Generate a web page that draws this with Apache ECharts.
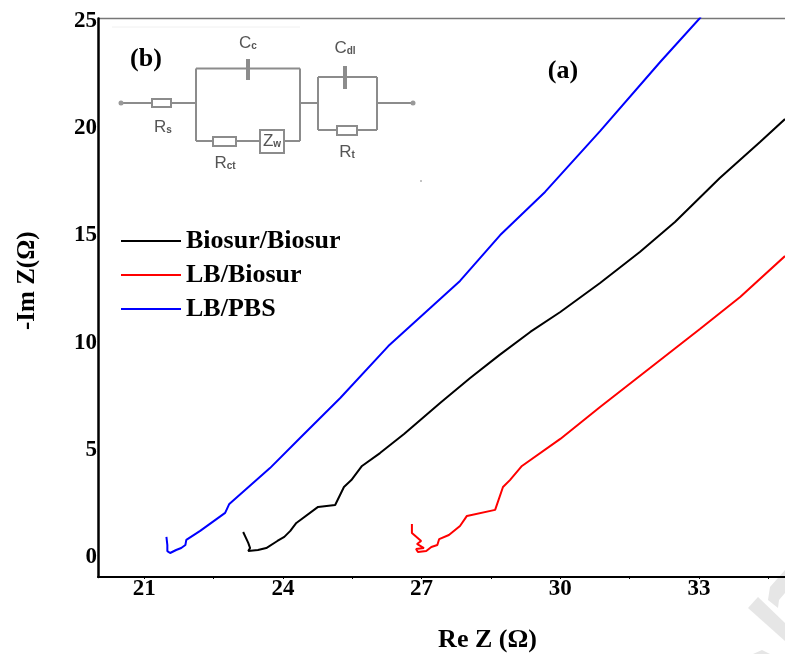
<!DOCTYPE html>
<html><head><meta charset="utf-8">
<style>html,body{margin:0;padding:0;background:#fff}#c{width:785px;height:654px}</style>
<script src="https://cdn.jsdelivr.net/npm/echarts@6/dist/echarts.min.js"></script>
</head><body><div id="c"></div>
<script>
const seriesNames = ['Biosur/Biosur','LB/Biosur','LB/PBS'];
const biosurBiosur = [[23.14,1.05],[23.25,.54],[23.29,.30],[23.25,.16],[23.46,.21],[23.64,.30],[23.88,.63],[24.03,.82],[24.16,1.10],[24.29,1.47],[24.76,2.22],[25.13,2.31],[25.32,3.15],[25.48,3.47],[25.71,4.13],[26.10,4.73],[26.62,5.62],[27.40,7.07],[28.05,8.23],[28.68,9.30],[29.35,10.38],[30.0,11.31],[30.86,12.66],[31.72,14.11],[32.48,15.51],[33.45,17.56],[34.32,19.24],[34.86,20.31]];
const lbBiosur = [[26.79,1.42],[26.79,1.00],[26.99,.63],[26.90,.49],[27.05,.30],[26.88,.26],[26.92,.12],[27.10,.16],[27.21,.35],[27.34,.44],[27.38,.72],[27.59,.91],[27.83,1.33],[27.98,1.80],[28.59,2.08],[28.76,3.15],[28.91,3.47],[29.17,4.13],[30.0,5.39],[30.86,6.88],[31.94,8.70],[33.02,10.52],[33.89,12.01],[34.86,13.92]];
const lbPbs = [[21.48,.82],[21.50,.44],[21.50,.16],[21.56,.07],[21.69,.21],[21.80,.30],[21.89,.44],[21.91,.68],[22.21,1.10],[22.75,1.94],[22.84,2.36],[23.72,4.03],[24.37,5.43],[25.24,7.30],[26.28,9.72],[27.83,12.76],[28.70,14.90],[29.67,16.91],[30.86,19.75],[32.16,22.97],[33.04,25.07]];
const xLabelValues = [21,24,27,30,33];
const xTickValues = [21,22.5,24,25.5,27,28.5,30,31.5,33,34.5];
const yLabelValues = [0,5,10,15,20,25];

const SERIF = '"Liberation Serif","Times New Roman",serif';
const G = '#8c8c8c';
const line = (x1,y1,x2,y2,w,c) => ({type:'line',silent:true,shape:{x1,y1,x2,y2},style:{stroke:c||G,lineWidth:w||2}});
const rect = (x,y,width,height) => ({type:'rect',silent:true,shape:{x,y,width,height},style:{fill:'#fff',stroke:G,lineWidth:2}});
const sub = (x,y,a,b) => ({type:'text',silent:true,x,y,style:{text:`{a|${a}}{b|${b}}`,align:'center',verticalAlign:'middle',rich:{a:{fontFamily:'"Liberation Sans",sans-serif',fontSize:17,fill:'#555'},b:{fontFamily:'"Liberation Sans",sans-serif',fontSize:10,fontWeight:'bold',fill:'#555',verticalAlign:'bottom',padding:[6,0,0,0]}}}});
const bold = (x,y,text) => ({type:'text',silent:true,x,y,style:{text,fontFamily:SERIF,fontWeight:'bold',fontSize:26,fill:'#000',align:'center',verticalAlign:'middle'}});
const wm = pts => ({type:'polygon',silent:true,z:-1,shape:{points:pts},style:{fill:'#e6e6e6'}});

const graphics = [
  wm([[748,608],[758,597],[785,623],[785,641]]),
  wm([[768,600],[770,587],[785,570],[785,593],[779,600],[778,608]]),
  wm([[753,654],[762,650],[770,654]]),
  line(112,27,300,27,1,'#f0f0f0'),
  line(420,181,422,181,1,'#888'),
  line(121,103,196,103), line(196,68.5,196,141), line(196,68.5,300,68.5), line(300,68.5,300,141),
  line(196,141,260,141), line(284,141,300,141), line(300,103,318,103),
  line(318,77,318,130), line(318,77,377,77), line(377,77,377,130), line(318,130,377,130),
  line(377,103,413,103),
  line(248,59,248,80,4), line(345,66,345,89,4),
  rect(152,99,19,8), rect(213,137,23,9), rect(260,130,24,23), rect(337,126,20,9),
  {type:'circle',silent:true,shape:{cx:121,cy:103,r:2.5},style:{fill:'#999'}},
  {type:'circle',silent:true,shape:{cx:413,cy:103,r:2.5},style:{fill:'#999'}},
  sub(248,43,'C','c'), sub(345,48,'C','dl'), sub(163,127,'R','s'), sub(225,163,'R','ct'), sub(347,152,'R','t'), sub(272,141,'Z','w'),
  bold(146,59,'(b)'), bold(563,71,'(a)')
];

const chart = echarts.init(document.getElementById('c'),null,{renderer:'canvas'});
chart.setOption({
  animation:false,
  backgroundColor:'#fff',
  grid:{left:98,top:18.5,right:0,bottom:77,show:false,outerBoundsMode:'none'},
  legend:{
    data:seriesNames,orient:'vertical',left:121,top:228,padding:0,itemWidth:60,itemHeight:2,itemGap:8,
    icon:'rect',
    textStyle:{fontFamily:SERIF,fontWeight:'bold',fontSize:26,color:'#000'}
  },
  xAxis:{
    type:'value',min:20,max:34.86,
    name:'Re Z (Ω)',nameLocation:'middle',nameGap:50,
    nameTextStyle:{fontFamily:SERIF,fontWeight:'bold',fontSize:26,color:'#000',padding:[0,0,0,92]},
    axisLine:{show:true,onZero:false,lineStyle:{color:'#000',width:2}},
    axisTick:{show:true,length:2,customValues:xTickValues,lineStyle:{color:'#000',width:1}},
    axisLabel:{customValues:xLabelValues,fontFamily:SERIF,fontWeight:'bold',fontSize:23,color:'#000',margin:1},
    splitLine:{show:false}
  },
  yAxis:{
    type:'value',min:-1.05,max:25,
    name:'-Im Z(Ω)',nameLocation:'middle',nameGap:58,
    nameTextStyle:{fontFamily:SERIF,fontWeight:'bold',fontSize:25,color:'#000',padding:[0,0,0,34]},
    axisLine:{show:true,onZero:false,lineStyle:{color:'#000',width:2.5}},
    axisTick:{show:false},
    axisLabel:{customValues:yLabelValues,margin:1,formatter:'{v|{value}}',
      rich:{v:{fontFamily:SERIF,fontWeight:'bold',fontSize:23,color:'#000',padding:[5,0,0,0]}}},
    splitLine:{show:false}
  },
  series:[
    {name:seriesNames[0],type:'line',data:biosurBiosur,showSymbol:false,symbol:'none',lineStyle:{color:'#000',width:2},itemStyle:{color:'#000'},z:5},
    {name:seriesNames[1],type:'line',data:lbBiosur,showSymbol:false,symbol:'none',lineStyle:{color:'#ff0000',width:2},itemStyle:{color:'#ff0000'},z:5},
    {name:seriesNames[2],type:'line',data:lbPbs,showSymbol:false,symbol:'none',lineStyle:{color:'#0000ff',width:2},itemStyle:{color:'#0000ff'},z:5}
  ],
  graphic:[
    {type:'group',silent:true,z:0,children:[line(98,18.5,785,18.5,1.5,'#777')]},
    {type:'group',silent:true,z:1,children:graphics}
  ]
});
</script></body></html>
